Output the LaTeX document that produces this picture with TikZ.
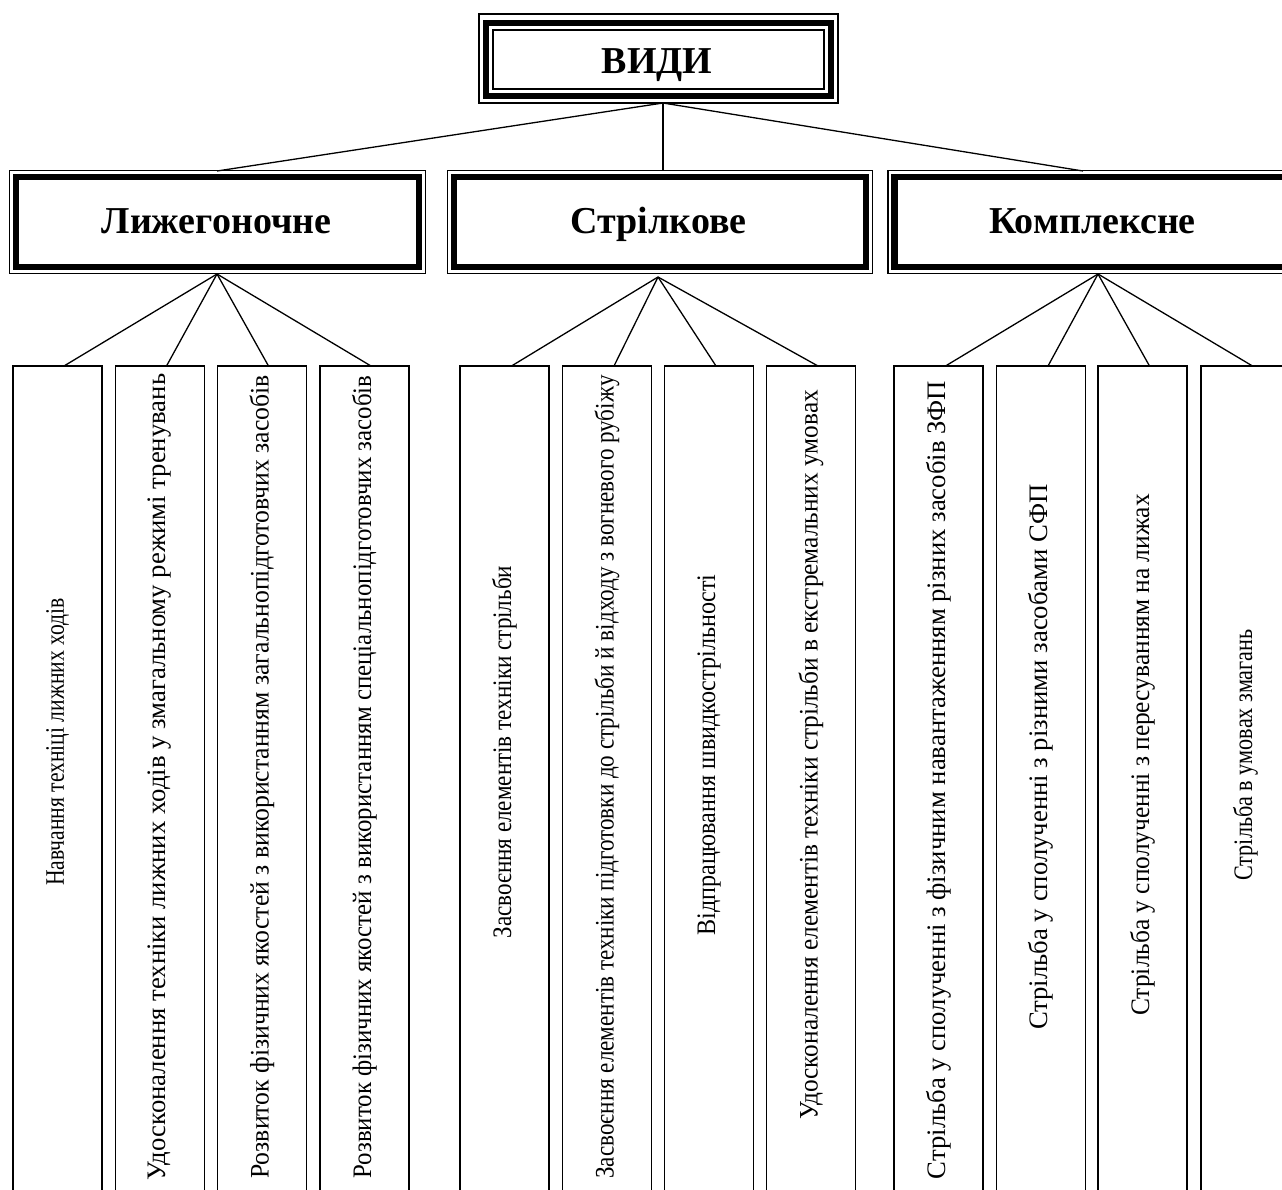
\documentclass[tikz,border=0pt]{standalone}
\usepackage{fontspec}
\usepackage{graphicx}
\setmainfont{Liberation Serif}
\newcommand{\fsz}[1]{\fontsize{#1}{#1}\selectfont}
\newcommand{\sq}[2]{\scalebox{#1}[1]{#2}}
\tikzset{
  thinline/.style={line width=1.3pt},
  leafbox/.style={draw, line width=1.3pt, minimum width=89pt, minimum height=860pt, anchor=north, inner sep=0pt, outer sep=0pt},
  leaftext/.style={rotate=90, inner sep=0pt, font=\fsz{26.7}},
  catbox/.style={draw, line width=6.5pt, minimum height=90pt, inner sep=0pt, outer sep=0pt},
  cattext/.style={anchor=base, inner sep=0pt, font=\fsz{38}\bfseries},
  topbox/.style={draw, line width=5.5pt, minimum width=345pt, minimum height=73pt, inner sep=0pt, outer sep=0pt},
  conn/.style={line width=1.3pt},
}
\begin{document}
\begin{tikzpicture}[x=1pt,y=-1pt]
\useasboundingbox (0,0) rectangle (1282,1189);
\clip (0,0) rectangle (1282,1189);
\fill[white] (0,0) rectangle (1282,1189);

% top box
\node[topbox] (top) at (658.5,59.5) {};
\node[cattext] (toptext) at (657,73) {ВИДИ};
\draw[thinline] ([shift={(-7pt,9pt)}]top.north west) rectangle ([shift={(7pt,-7pt)}]top.south east);
\draw[thinline] ([shift={(7pt,-7pt)}]top.north west) rectangle ([shift={(-7pt,7pt)}]top.south east);

% category boxes
\node[catbox, minimum width=403pt] (cL) at (217.5,222) {};
\node[catbox, minimum width=412pt] (cS) at (660,222) {};
\node[catbox, minimum width=395pt] (cK) at (1092,222) {};
\node[cattext] (cLt) at (216.5,233) {Лижегоночне};
\node[cattext] (cSt) at (658.5,233) {Стрілкове};
\node[cattext] (cKt) at (1092.5,233) {Комплексне};
\foreach \n in {cL,cS,cK}{
  \draw[thinline] ([shift={(-6.5pt,6.5pt)}]\n.north west) rectangle ([shift={(6.5pt,-6.5pt)}]\n.south east);
}

% connectors from top
\coordinate (topapex) at (663,103);
\coordinate (tL) at (217,171);
\coordinate (tS) at (663,171);
\coordinate (tK) at (1083,171);
\draw[conn] (topapex) -- (tL);
\draw[conn] (topapex) -- (tS);
\draw[conn] (topapex) -- (tK);

% leaf boxes
\node[leafbox] (L1) at (57.5,366) {};
\node[leafbox] (L2) at (160,366) {};
\node[leafbox] (L3) at (262,366) {};
\node[leafbox] (L4) at (364.5,366) {};
\node[leafbox] (S1) at (504.5,366) {};
\node[leafbox] (S2) at (607,366) {};
\node[leafbox] (S3) at (709,366) {};
\node[leafbox] (S4) at (811,366) {};
\node[leafbox] (K1) at (938.5,366) {};
\node[leafbox] (K2) at (1041,366) {};
\node[leafbox] (K3) at (1142.5,366) {};
\node[leafbox] (K4) at (1245.5,366) {};

% connectors to leaves
\coordinate (aL) at (217,274);
\coordinate (aS) at (658,277);
\coordinate (aK) at (1098,274);
\foreach \b in {L1,L2,L3,L4}{\draw[conn] (aL) -- ([xshift=6.5pt]\b.north);}
\foreach \b in {S1,S2,S3,S4}{\draw[conn] (aS) -- ([xshift=7pt]\b.north);}
\foreach \b in {K1,K2,K3,K4}{\draw[conn] (aK) -- ([xshift=7pt]\b.north);}

% leaf texts
\node[leaftext] (tL1) at (57.5,742) {\sq{0.81}{Навчання техніці лижних ходів}};
\node[leaftext] (tL2) at (160,777) {Удосконалення техніки лижних ходів у змагальному режимі тренувань};
\node[leaftext] (tL3) at (262,777) {\sq{0.963}{Розвиток фізичних якостей з використанням загальнопідготовчих засобів}};
\node[leaftext] (tL4) at (364.5,777) {\sq{0.933}{Розвиток фізичних якостей з використанням спеціальнопідготовчих засобів}};
\node[leaftext] (tS1) at (504.5,752) {\sq{0.865}{Засвоєння елементів техніки стрільби}};
\node[leaftext] (tS2) at (607,777) {\sq{0.865}{Засвоєння елементів техніки підготовки до стрільби й відходу з вогневого рубіжу}};
\node[leaftext] (tS3) at (709,755) {\sq{0.903}{Відпрацювання швидкострільності}};
\node[leaftext] (tS4) at (811,755) {\sq{0.948}{Удосконалення елементів техніки стрільби в екстремальних умовах}};
\node[leaftext] (tK1) at (938.5,780) {Стрільба у сполученні з фізичним навантаженням різних засобів ЗФП};
\node[leaftext] (tK2) at (1041,757) {Стрільба у сполученні з різними засобами СФП};
\node[leaftext] (tK3) at (1142.5,755) {\sq{0.951}{Стрільба у сполученні з пересуванням на лижах}};
\node[leaftext] (tK4) at (1245.5,755) {\sq{0.831}{Стрільба в умовах змагань}};
\end{tikzpicture}
\end{document}
